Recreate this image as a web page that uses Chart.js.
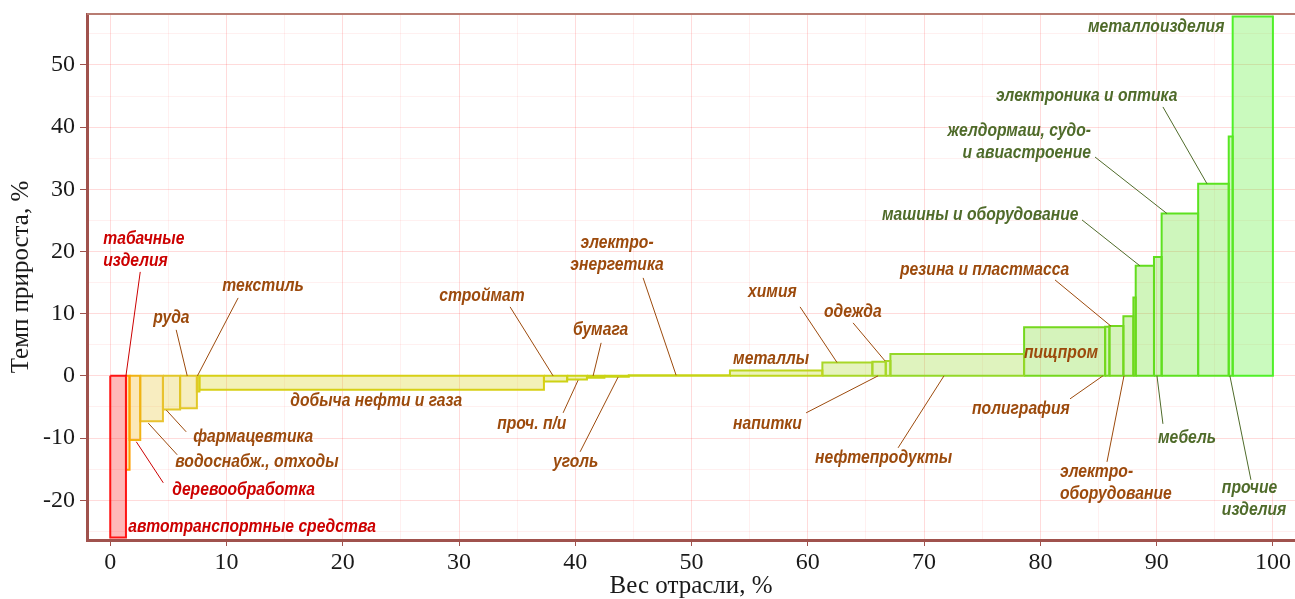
<!DOCTYPE html>
<html>
<head>
<meta charset="utf-8">
<script src="https://cdn.jsdelivr.net/npm/chart.js@4"></script>
<style>
  body { margin: 0; background: #fff; }
  #wrap { width: 1295px; height: 599px; }
</style>
</head>
<body>
<div id="wrap"><canvas id="graph" width="1295" height="599"></canvas></div>
<script>
// отрасли по порядку (слева направо)
const industries = ['автотранспортные средства', 'табачные изделия', 'деревообработка', 'водоснабж., отходы',
    'фармацевтика', 'руда', 'текстиль', 'добыча нефти и газа', 'строймат', 'проч. п/и', 'бумага', 'уголь',
    'электроэнергетика', 'металлы', 'химия', 'напитки', 'одежда', 'нефтепродукты', 'пищпром', 'полиграфия',
    'резина и пластмасса', 'электрооборудование', 'прочее', 'машины и оборудование', 'мебель',
    'желдормаш, судо- и авиастроение', 'электроника и оптика', 'прочие изделия', 'металлоизделия'];
// вес отрасли, %
const weights = [1.35, 0.31, 0.92, 1.95, 1.48, 1.44, 0.22, 29.63, 2.0, 1.7, 1.5, 2.1,
    8.7, 7.95, 4.3, 1.15, 0.4, 11.5, 6.97, 0.37, 1.2, 0.86, 0.2, 1.57, 0.66, 3.14, 2.63, 0.34, 3.46];
// темп прироста, %
const growth = [-26.0, -15.1, -10.3, -7.3, -5.4, -5.2, -2.5, -2.25, -0.9, -0.6, -0.3, -0.15,
    0.1, 0.85, 2.15, 2.25, 2.4, 3.5, 7.8, 7.9, 8.0, 9.6, 12.6, 17.7, 19.1, 26.1, 30.9, 38.5, 57.8];

const xTicks = [0, 5, 10, 15, 20, 25, 30, 35, 40, 45, 50, 55, 60, 65, 70, 75, 80, 85, 90, 95, 100];
const yTicks = [-25, -20, -15, -10, -5, 0, 5, 10, 15, 20, 25, 30, 35, 40, 45, 50, 55];

const RED = '#cc0000';
const BROWN = '#9c4a0c';
const GREEN = '#4f6b2a';

// подписи: текст, позиция (в единицах осей), выноска
const notes = [
    {t: ['автотранспортные средства'], x: 1.55, y: -24.28, c: RED},
    {t: ['табачные', 'изделия'], x: -0.6, y: 22.03, c: RED, l: [2.58, 16.72, 1.35, 0]},
    {t: ['деревообработка'], x: 5.33, y: -18.33, c: RED, l: [4.56, -17.2, 2.24, -10.6]},
    {t: ['водоснабж., отходы'], x: 5.59, y: -13.83, l: [5.76, -12.7, 3.27, -7.6]},
    {t: ['фармацевтика'], x: 7.14, y: -9.81, l: [6.53, -9.0, 4.82, -5.5]},
    {t: ['руда'], x: 3.7, y: 9.32, l: [5.67, 7.4, 6.62, 0]},
    {t: ['текстиль'], x: 9.63, y: 14.47, l: [11.0, 12.54, 7.5, 0]},
    {t: ['добыча нефти и газа'], x: 15.48, y: -4.02},
    {t: ['строймат'], x: 28.29, y: 12.86, l: [34.39, 11.09, 38.09, 0]},
    {t: ['проч. п/и'], x: 33.28, y: -7.72, l: [38.95, -5.95, 40.24, -0.7]},
    {t: ['бумага'], x: 39.81, y: 7.4, l: [42.22, 5.31, 41.53, 0]},
    {t: ['уголь'], x: 38.09, y: -13.83, l: [40.41, -12.22, 43.68, -0.2]},
    {t: ['электро-', 'энергетика'], x: 43.59, y: 21.38, a: 'center', l: [45.83, 15.76, 48.67, 0.1]},
    {t: ['металлы'], x: 53.57, y: 2.73},
    {t: ['химия'], x: 54.86, y: 13.5, l: [59.33, 11.09, 62.51, 2.15]},
    {t: ['одежда'], x: 61.39, y: 10.29, l: [63.89, 8.52, 66.64, 2.4]},
    {t: ['напитки'], x: 53.57, y: -7.72, l: [59.85, -5.95, 66.04, 0]},
    {t: ['нефтепродукты'], x: 60.62, y: -13.18, l: [67.76, -11.58, 71.71, 0]},
    {t: ['пищпром'], x: 78.59, y: 3.7},
    {t: ['полиграфия'], x: 74.12, y: -5.31, l: [82.55, -3.7, 85.38, 0]},
    {t: ['резина и пластмасса'], x: 67.93, y: 17.04, l: [81.26, 15.43, 86.07, 8.0]},
    {t: ['электро-', 'оборудование'], x: 81.69, y: -15.43, l: [85.73, -13.83, 87.19, 0]},
    {t: ['машины и оборудование'], x: 66.38, y: 25.88, c: GREEN, l: [83.58, 25.08, 88.56, 17.7]},
    {t: ['мебель'], x: 90.11, y: -9.97, c: GREEN, l: [90.54, -7.72, 90.03, 0]},
    {t: ['желдормаш, судо-', 'и авиастроение'], x: 84.35, y: 39.39, a: 'right', c: GREEN, l: [84.7, 35.2, 90.89, 26.1]},
    {t: ['электроника и оптика'], x: 76.18, y: 45.02, c: GREEN, l: [90.54, 43.25, 94.33, 30.9]},
    {t: ['прочие', 'изделия'], x: 95.61, y: -18.0, c: GREEN, l: [98.11, -16.72, 96.3, 0]},
    {t: ['металлоизделия'], x: 84.09, y: 56.11, c: GREEN}
];

// цвет по темпу прироста: красный -> оранжевый -> жёлтый -> зелёный
const colorStops = [
    [-26, [255, 20, 20]],
    [-15, [255, 160, 0]],
    [-10, [240, 180, 20]],
    [-7, [232, 195, 50]],
    [-2.25, [215, 208, 20]],
    [0, [200, 212, 20]],
    [1, [188, 214, 30]],
    [2.2, [168, 215, 40]],
    [3.5, [148, 216, 40]],
    [8, [115, 216, 30]],
    [20, [95, 222, 30]],
    [58, [80, 240, 40]]
];

function colorFor(v) {
    let c = colorStops[0][1];
    for (let i = 0; i < colorStops.length - 1; i++) {
        const a = colorStops[i], b = colorStops[i + 1];
        if (v >= a[0] && v <= b[0]) {
            const k = (v - a[0]) / (b[0] - a[0]);
            c = a[1].map((q, j) => Math.round(q + (b[1][j] - q) * k));
            break;
        }
        if (v > b[0]) c = b[1];
    }
    return c;
}

function mkDatasets() {
    const sets = [];
    let left = 0;
    for (let i = 0; i < industries.length; i++) {
        const right = left + weights[i];
        const v = growth[i];
        const c = colorFor(v);
        sets.push({
            label: industries[i],
            data: [{x: left, y: 0}, {x: left, y: v}, {x: right, y: v}, {x: right, y: 0}, {x: left, y: 0}],
            showLine: true,
            borderColor: 'rgb(' + c.join(',') + ')',
            backgroundColor: 'rgba(' + c.join(',') + ',0.3)',
            borderWidth: 2,
            pointRadius: 0,
            fill: 'shape',
            tension: 0
        });
        left = right;
    }
    return sets;
}

const condense = 0.87;
const labelsPlugin = {
    id: 'labels',
    afterDatasetsDraw(chart) {
        const ctx = chart.ctx;
        const xs = chart.scales.x, ys = chart.scales.y;
        ctx.save();
        for (const n of notes) {
            const color = n.c || BROWN;
            if (n.l) {
                ctx.strokeStyle = color;
                ctx.lineWidth = 1;
                ctx.beginPath();
                ctx.moveTo(xs.getPixelForValue(n.l[0]), ys.getPixelForValue(n.l[1]));
                ctx.lineTo(xs.getPixelForValue(n.l[2]), ys.getPixelForValue(n.l[3]));
                ctx.stroke();
            }
            ctx.fillStyle = color;
            ctx.font = 'italic bold 18px "Liberation Sans", Arial, sans-serif';
            ctx.textBaseline = 'middle';
            ctx.textAlign = n.a || 'left';
            const px = xs.getPixelForValue(n.x);
            const py = ys.getPixelForValue(n.y);
            for (let k = 0; k < n.t.length; k++) {
                ctx.save();
                ctx.translate(px, py + k * 22);
                ctx.scale(condense, 1);
                ctx.fillText(n.t[k], 0, 0);
                ctx.restore();
            }
        }
        ctx.restore();
    }
};

const framePlugin = {
    id: 'frame',
    afterDraw(chart) {
        const a = chart.chartArea;
        const ctx = chart.ctx;
        ctx.save();
        ctx.strokeStyle = '#b87c72';
        ctx.lineWidth = 2;
        ctx.beginPath();
        ctx.moveTo(a.left, a.top);
        ctx.lineTo(a.right, a.top);
        ctx.stroke();
        ctx.restore();
    }
};

const tickFont = {family: '"Liberation Serif", "Times New Roman", serif', size: 24};
const titleFont = {family: '"Liberation Serif", "Times New Roman", serif', size: 25, lineHeight: 1.0};
const gridColor = (c) => (c.tick && c.tick.value % 10 === 0) ? 'rgba(255,0,0,0.14)' : 'rgba(255,0,0,0.06)';
const tickColor = (c) => (c.tick && c.tick.value % 10 === 0) ? '#a0524d' : 'rgba(0,0,0,0)';

new Chart(document.getElementById('graph'), {
    type: 'scatter',
    data: {datasets: mkDatasets()},
    options: {
        responsive: false,
        animation: false,
        layout: {padding: {top: 14, right: 0, bottom: 0, left: 0}},
        plugins: {legend: {display: false}, tooltip: {enabled: false}},
        scales: {
            x: {
                type: 'linear',
                min: -2,
                max: 101.9,
                afterBuildTicks: (axis) => { axis.ticks = xTicks.map(v => ({value: v})); },
                afterFit: (s) => { s.height = 59; s.paddingLeft = 0; s.paddingRight = 0; },
                ticks: {
                    autoSkip: false, maxRotation: 0, padding: 2, color: '#1a1a1a', font: tickFont,
                    callback: (v) => v % 10 === 0 ? String(v) : ''
                },
                grid: {color: gridColor, tickColor: tickColor, tickLength: 6, lineWidth: 1},
                border: {color: '#a0524d', width: 3},
                title: {display: true, text: 'Вес отрасли, %', color: '#1a1a1a', font: titleFont, padding: {top: 0, bottom: 0}}
            },
            y: {
                type: 'linear',
                min: -26.4,
                max: 58.2,
                afterBuildTicks: (axis) => { axis.ticks = yTicks.map(v => ({value: v})); },
                afterFit: (s) => { s.width = 87; s.paddingTop = 0; s.paddingBottom = 0; },
                ticks: {
                    autoSkip: false, padding: 5, color: '#1a1a1a', font: tickFont,
                    callback: (v) => v % 10 === 0 ? String(v) : ''
                },
                grid: {color: gridColor, tickColor: tickColor, tickLength: 7, lineWidth: 1},
                border: {color: '#a0524d', width: 3},
                title: {display: true, text: 'Темп прироста, %', color: '#1a1a1a', font: titleFont, padding: {top: 9, bottom: 0}}
            }
        }
    },
    plugins: [labelsPlugin, framePlugin]
});
</script>
</body>
</html>
